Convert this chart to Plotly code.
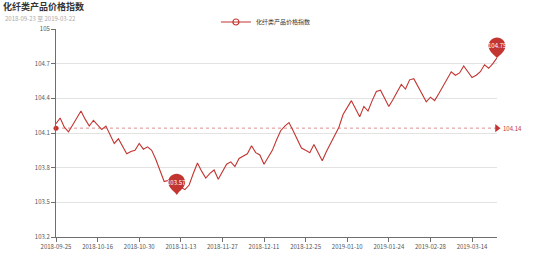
import numpy as np
import plotly.graph_objects as go

# ---------------- data ----------------
dates = [
    "2018-09-25", "2018-09-26", "2018-09-27", "2018-09-28", "2018-10-08", "2018-10-09", "2018-10-10",
    "2018-10-11", "2018-10-12", "2018-10-15", "2018-10-16", "2018-10-17", "2018-10-18", "2018-10-19",
    "2018-10-22", "2018-10-23", "2018-10-24", "2018-10-25", "2018-10-26", "2018-10-29", "2018-10-30",
    "2018-10-31", "2018-11-01", "2018-11-02", "2018-11-05", "2018-11-06", "2018-11-07", "2018-11-08",
    "2018-11-09", "2018-11-12", "2018-11-13", "2018-11-14", "2018-11-15", "2018-11-16", "2018-11-19",
    "2018-11-20", "2018-11-21", "2018-11-22", "2018-11-23", "2018-11-26", "2018-11-27", "2018-11-28",
    "2018-11-29", "2018-11-30", "2018-12-03", "2018-12-04", "2018-12-05", "2018-12-06", "2018-12-07",
    "2018-12-10", "2018-12-11", "2018-12-12", "2018-12-13", "2018-12-14", "2018-12-17", "2018-12-18",
    "2018-12-19", "2018-12-20", "2018-12-21", "2018-12-24", "2018-12-25", "2018-12-26", "2018-12-27",
    "2018-12-28", "2019-01-02", "2019-01-03", "2019-01-04", "2019-01-07", "2019-01-08", "2019-01-09",
    "2019-01-10", "2019-01-11", "2019-01-14", "2019-01-15", "2019-01-16", "2019-01-17", "2019-01-18",
    "2019-01-21", "2019-01-22", "2019-01-23", "2019-01-24", "2019-01-25", "2019-01-29", "2019-01-31",
    "2019-02-01", "2019-02-12", "2019-02-15", "2019-02-19", "2019-02-22", "2019-02-26", "2019-02-28",
    "2019-03-01", "2019-03-04", "2019-03-05", "2019-03-06", "2019-03-07", "2019-03-08", "2019-03-11",
    "2019-03-12", "2019-03-13", "2019-03-14", "2019-03-15", "2019-03-18", "2019-03-19", "2019-03-20",
    "2019-03-21", "2019-03-22",
]

values = [
    104.18, 104.23, 104.15, 104.11, 104.17, 104.23, 104.29, 104.22, 104.16, 104.21,
    104.17, 104.13, 104.16, 104.09, 104.01, 104.05, 103.98, 103.92, 103.94, 103.95,
    104.01, 103.96, 103.98, 103.95, 103.87, 103.77, 103.68, 103.69, 103.70, 103.57,
    103.63, 103.61, 103.65, 103.75, 103.84, 103.77, 103.71, 103.75, 103.78, 103.70,
    103.77, 103.83, 103.85, 103.81, 103.88, 103.90, 103.92, 103.99, 103.93, 103.91,
    103.83, 103.89, 103.95, 104.04, 104.12, 104.16, 104.19, 104.12, 104.05, 103.97,
    103.95, 103.93, 104.00, 103.93, 103.86, 103.94, 104.01, 104.09, 104.15, 104.26,
    104.32, 104.38, 104.31, 104.24, 104.33, 104.29, 104.38, 104.46, 104.47, 104.40,
    104.33, 104.39, 104.46, 104.52, 104.48, 104.56, 104.57, 104.50, 104.43, 104.37,
    104.41, 104.38, 104.44, 104.50, 104.57, 104.63, 104.60, 104.62, 104.68, 104.63,
    104.58, 104.60, 104.63, 104.69, 104.66, 104.70, 104.75,
]

x_tick_labels = dates[::10]
y_ticks = [103.2, 103.5, 103.8, 104.1, 104.4, 104.7, 105]

title_text = "化纤类产品价格指数"
subtitle_text = "2018-09-23 至 2019-03-22"
series_name = "化纤类产品价格指数"

# ---------------- style ----------------
RED = "#c23531"
FONT = "Noto Sans CJK SC"
AXIS = "#6e6e6e"
GRID = "#e2e2e2"

avg = float(np.mean(values))
i_max = int(np.argmax(values))
i_min = int(np.argmin(values))

fig = go.Figure()

# main line
fig.add_trace(go.Scatter(
    x=dates, y=values, mode="lines", name=series_name,
    line=dict(color=RED, width=1.1), showlegend=False,
))
# legend entry (line with hollow circle, like the source legend icon)
fig.add_trace(go.Scatter(
    x=[None], y=[None], mode="lines+markers", name=series_name,
    line=dict(color=RED, width=1.1),
    marker=dict(symbol="circle-open", size=6, color=RED, line=dict(width=1.2)),
))

# average mark line
fig.add_shape(type="line", xref="x", yref="y", x0=dates[0], x1=dates[-1], y0=avg, y1=avg,
              line=dict(color="rgba(194,53,49,0.55)", width=1, dash="dot"), layer="above")
fig.add_trace(go.Scatter(x=[dates[0]], y=[avg], mode="markers", showlegend=False,
                         marker=dict(color=RED, size=5), cliponaxis=False, hoverinfo="skip"))
fig.add_trace(go.Scatter(x=[dates[-1]], y=[avg], mode="markers", showlegend=False,
                         marker=dict(color=RED, size=7, symbol="triangle-right"),
                         cliponaxis=False, hoverinfo="skip"))
fig.add_annotation(x=dates[-1], y=avg, xref="x", yref="y", text=f"{avg:.2f}", showarrow=False,
                   xanchor="left", xshift=4, font=dict(size=6, color=RED, family=FONT))

# max / min pins (x anchored in the x-axis domain so the edge pin is not clipped)
pin_path = ("M 0 0 C -3 3 -8.5 7 -8.5 12 C -8.5 16.7 -4.7 20.5 0 20.5 "
            "C 4.7 20.5 8.5 16.7 8.5 12 C 8.5 7 3 3 0 0 Z")
n_cat = len(dates)
for idx in (i_max, i_min):
    fig.add_shape(type="path", xref="x domain", yref="y", xsizemode="pixel", ysizemode="pixel",
                  xanchor=idx / (n_cat - 1), yanchor=values[idx], path=pin_path,
                  fillcolor=RED, line=dict(width=0), layer="above")
    fig.add_annotation(x=dates[idx], y=values[idx], xref="x", yref="y", text=f"{values[idx]:.2f}",
                       showarrow=False, yshift=12, font=dict(size=6, color="white", family=FONT))

# subtitle
fig.add_annotation(xref="paper", yref="paper", x=0, y=1, xshift=-53, yshift=10.8,
                   xanchor="left", yanchor="middle", text=subtitle_text, showarrow=False,
                   font=dict(size=6, color="#aaaaaa", family=FONT))

fig.update_layout(
    width=554, height=265,
    margin=dict(l=56, r=57, t=29, b=28, autoexpand=False),
    paper_bgcolor="white", plot_bgcolor="white",
    font=dict(family=FONT, size=6, color="#333333"),
    title=dict(text=title_text, x=3 / 554, xanchor="left", xref="container",
               y=1 - 6.8 / 265, yanchor="middle", yref="container",
               font=dict(size=9, color="#333333", family=FONT, weight="bold")),
    legend=dict(orientation="h", xref="container", yref="container",
                x=0.48, xanchor="center", y=1 - 22 / 265, yanchor="middle",
                font=dict(size=6, color="#333333", family=FONT),
                itemwidth=30, bgcolor="rgba(0,0,0,0)"),
    xaxis=dict(type="category", range=[0, n_cat - 1],
               tickmode="array", tickvals=x_tick_labels, ticktext=x_tick_labels,
               showgrid=False, showline=True, linecolor=AXIS, linewidth=1,
               ticks="outside", ticklen=4, tickcolor=AXIS, tickangle=0,
               tickfont=dict(size=6, color="#555555"), zeroline=False, fixedrange=True),
    yaxis=dict(range=[103.2, 105], tickmode="array", tickvals=y_ticks,
               showgrid=True, gridcolor=GRID, gridwidth=1,
               showline=True, linecolor=AXIS, linewidth=1,
               ticks="outside", ticklen=4, tickcolor=AXIS,
               tickfont=dict(size=6, color="#555555"), zeroline=False, fixedrange=True),
    showlegend=True,
)

fig.write_html("out.html")
